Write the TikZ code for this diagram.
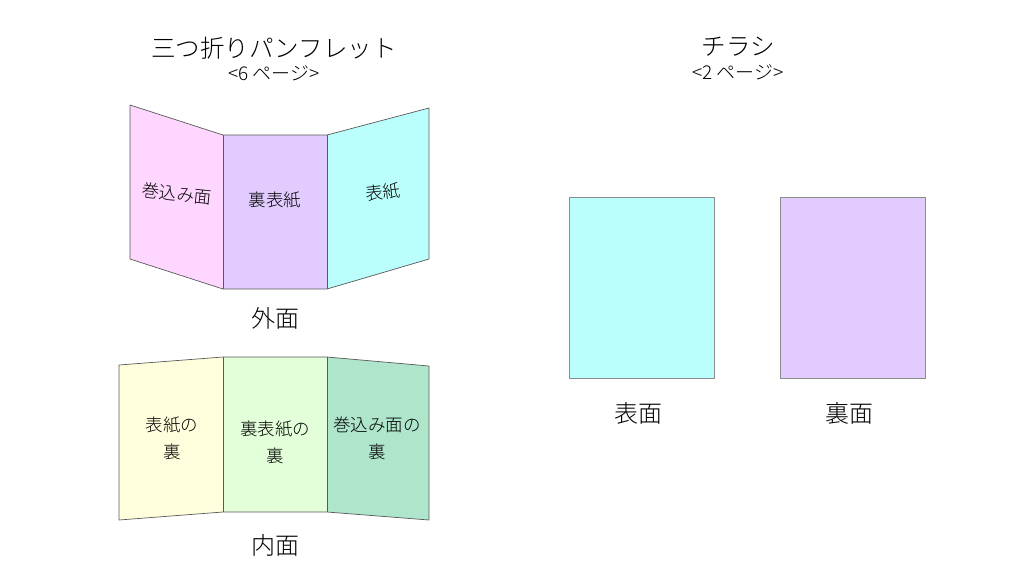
\documentclass[tikz,border=0pt]{standalone}
\usepackage{fontspec}
\setmainfont{Noto Sans CJK JP}[UprightFont={* Light}]
\usepackage{tikz}
\usetikzlibrary{positioning}

\definecolor{pinkpage}{HTML}{FFD6FF}
\definecolor{lilacpage}{HTML}{E2CCFF}
\definecolor{cyanpage}{HTML}{BBFFFC}
\definecolor{yellowpage}{HTML}{FFFFDD}
\definecolor{lightgreenpage}{HTML}{E3FFD9}
\definecolor{greenpage}{HTML}{AEE5CB}

\begin{document}
\begin{tikzpicture}[x=1pt, y=-1pt,
        panel/.style={draw=black!65, line width=0.7pt, line join=round},
        sheet/.style={draw=black!45, line width=0.9pt, minimum width=145pt, minimum height=181pt, inner sep=0pt},
        title/.style={font=\fontsize{24.5}{27}\selectfont, inner sep=0pt},
        subtitle/.style={font=\fontsize{19}{21}\selectfont, inner sep=0pt},
        caption/.style={font=\fontsize{24}{26}\selectfont, inner sep=0pt},
        pagetext/.style={font=\fontsize{17.5}{27}\selectfont, align=center, inner sep=0pt}
    ]
        \useasboundingbox (0,0) rectangle (1024,576);

        % titles
        \node [title] (pamphlet) at (274,48) {三つ折りパンフレット};
        \node [subtitle, below=25pt of pamphlet.center, anchor=center] (pamphletpages) {<6 ページ>};
        \node [title] (flyer) at (738,47) {チラシ};
        \node [subtitle, below=25pt of flyer.center, anchor=center] (flyerpages) {<2 ページ>};

        % outside of the pamphlet
        \fill [pinkpage] (130,105) -- (223,135) -- (223,289) -- (130,259) -- cycle;
        \fill [lilacpage] (223,135) rectangle (327,289);
        \fill [cyanpage] (327,135) -- (429,108) -- (429,259) -- (327,289) -- cycle;
        \draw [panel] (130,105) -- (223,135) -- (327,135) -- (429,108) -- (429,259)
            -- (327,289) -- (223,289) -- (130,259) -- cycle;
        \draw [panel] (223,135) -- (223,289);
        \draw [panel] (327,135) -- (327,289);
        \node [pagetext, rotate=-6] (wrapout) at (177,194) {巻込み面};
        \node [pagetext] (backout) at (275,200) {裏表紙};
        \node [pagetext, rotate=6] (coverout) at (383,192) {表紙};
        \node [caption] (outside) at (275,318) {外面};

        % inside of the pamphlet
        \fill [yellowpage] (119,365) -- (223,357) -- (223,512) -- (119,520) -- cycle;
        \fill [lightgreenpage] (223,357) rectangle (327,512);
        \fill [greenpage] (327,357) -- (429,366) -- (429,520) -- (327,512) -- cycle;
        \draw [panel] (119,365) -- (223,357) -- (327,357) -- (429,366) -- (429,520)
            -- (327,512) -- (223,512) -- (119,520) -- cycle;
        \draw [panel] (223,357) -- (223,512);
        \draw [panel] (327,357) -- (327,512);
        \node [pagetext] (coverin) at (172,438) {表紙の\\裏};
        \node [pagetext] (backin) at (275,442) {裏表紙の\\裏};
        \node [pagetext] (wrapin) at (377,438) {巻込み面の\\裏};
        \node [caption] (inside) at (275,545) {内面};

        % flyer
        \node [sheet, fill=cyanpage] (front) at (641.5,287.5) {};
        \node [sheet, fill=lilacpage] (back) at (853,287.5) {};
        \node [caption, below=35pt of front.south, anchor=center, xshift=-3pt] (frontlabel) {表面};
        \node [caption, below=35pt of back.south, anchor=center, xshift=-4pt] (backlabel) {裏面};

    \end{tikzpicture}
\end{document}
